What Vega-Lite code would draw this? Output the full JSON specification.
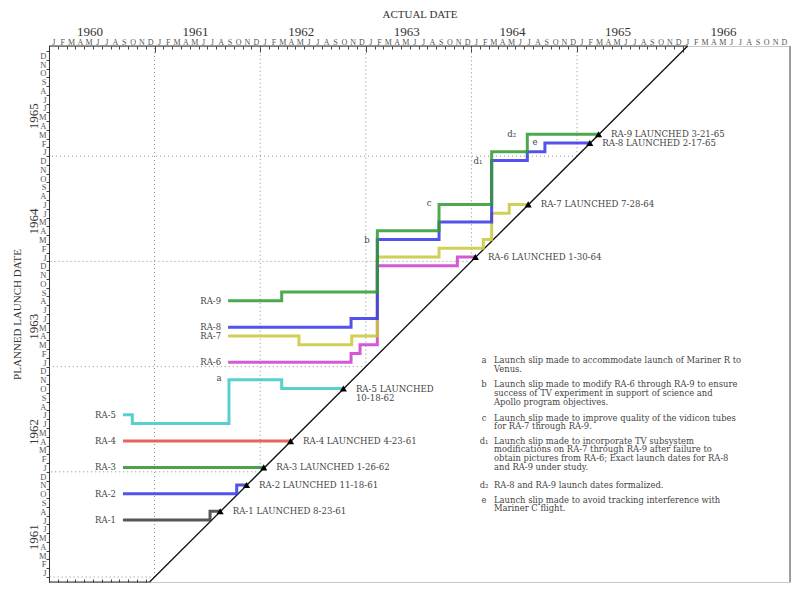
{
  "$schema": "https://vega.github.io/schema/vega-lite/v6.json",
  "width": 741,
  "height": 536,
  "autosize": "none",
  "padding": {"left": 49, "top": 46, "right": 10, "bottom": 10},
  "background": "white",
  "config": {"view": {"stroke": "#c8c8c8", "strokeWidth": 1}, "axis": {"grid": false}},
  "resolve": {"axis": {"x": "independent", "y": "independent"}},
  "datasets": {
    "grid": [
      {"x": 12, "x2": 0, "y": 12, "y2": 12}, {"x": 12, "x2": 12, "y": 12, "y2": 72.57},
      {"x": 24, "x2": 0, "y": 24, "y2": 24}, {"x": 24, "x2": 24, "y": 24, "y2": 72.57},
      {"x": 36, "x2": 0, "y": 36, "y2": 36}, {"x": 36, "x2": 36, "y": 36, "y2": 72.57},
      {"x": 48, "x2": 0, "y": 48, "y2": 48}, {"x": 48, "x2": 48, "y": 48, "y2": 72.57},
      {"x": 60, "x2": 0, "y": 60, "y2": 60}, {"x": 60, "x2": 60, "y": 60, "y2": 72.57}
    ],
    "frame": [
      {"part": "diag", "x": 11.43, "x2": 72.57, "y": 11.43, "y2": 72.57},
      {"part": "edge", "x": 0, "x2": 72.57, "y": 72.57, "y2": 72.57},
      {"part": "edge", "x": 0, "x2": 11.43, "y": 11.43, "y2": 11.43},
      {"part": "right", "x": 84.2, "x2": 84.2, "y": 11.43, "y2": 72.57}
    ],
    "lines": [
      {"series": "RA-1", "i": 0, "x": 8.4, "y": 18.5}, {"series": "RA-1", "i": 1, "x": 18.3, "y": 19.5}, {"series": "RA-1", "i": 2, "x": 19.45, "y": 19.5},
      {"series": "RA-2", "i": 0, "x": 8.4, "y": 21.5}, {"series": "RA-2", "i": 1, "x": 21.33, "y": 22.5}, {"series": "RA-2", "i": 2, "x": 22.45, "y": 22.5},
      {"series": "RA-3", "i": 0, "x": 8.4, "y": 24.5}, {"series": "RA-3", "i": 1, "x": 24.4, "y": 24.5},
      {"series": "RA-4", "i": 0, "x": 8.4, "y": 27.5}, {"series": "RA-4", "i": 1, "x": 27.45, "y": 27.5},
      {"series": "RA-5", "i": 0, "x": 8.4, "y": 30.5}, {"series": "RA-5", "i": 1, "x": 9.47, "y": 29.5}, {"series": "RA-5", "i": 2, "x": 20.45, "y": 34.5}, {"series": "RA-5", "i": 3, "x": 26.44, "y": 33.5}, {"series": "RA-5", "i": 4, "x": 33.45, "y": 33.5},
      {"series": "RA-6", "i": 0, "x": 20.35, "y": 36.5}, {"series": "RA-6", "i": 1, "x": 34.32, "y": 37.5}, {"series": "RA-6", "i": 2, "x": 35.34, "y": 38.5}, {"series": "RA-6", "i": 3, "x": 37.31, "y": 47.5}, {"series": "RA-6", "i": 4, "x": 46.4, "y": 48.5}, {"series": "RA-6", "i": 5, "x": 48.45, "y": 48.5},
      {"series": "RA-7", "i": 0, "x": 20.35, "y": 39.5}, {"series": "RA-7", "i": 1, "x": 28.4, "y": 38.5}, {"series": "RA-7", "i": 2, "x": 34.4, "y": 39.5}, {"series": "RA-7", "i": 3, "x": 37.31, "y": 48.5}, {"series": "RA-7", "i": 4, "x": 44.32, "y": 49.5}, {"series": "RA-7", "i": 5, "x": 49.35, "y": 50.5}, {"series": "RA-7", "i": 6, "x": 50.3, "y": 53.5}, {"series": "RA-7", "i": 7, "x": 52.3, "y": 54.5}, {"series": "RA-7", "i": 8, "x": 54.45, "y": 54.5},
      {"series": "RA-8", "i": 0, "x": 20.35, "y": 40.5}, {"series": "RA-8", "i": 1, "x": 34.32, "y": 41.5}, {"series": "RA-8", "i": 2, "x": 37.31, "y": 50.5}, {"series": "RA-8", "i": 3, "x": 44.32, "y": 52.5}, {"series": "RA-8", "i": 4, "x": 50.3, "y": 59.5}, {"series": "RA-8", "i": 5, "x": 54.35, "y": 60.5}, {"series": "RA-8", "i": 6, "x": 56.35, "y": 61.5}, {"series": "RA-8", "i": 7, "x": 61.45, "y": 61.5},
      {"series": "RA-9", "i": 0, "x": 20.35, "y": 43.5}, {"series": "RA-9", "i": 1, "x": 26.44, "y": 44.5}, {"series": "RA-9", "i": 2, "x": 37.31, "y": 51.5}, {"series": "RA-9", "i": 3, "x": 44.32, "y": 54.5}, {"series": "RA-9", "i": 4, "x": 50.3, "y": 60.5}, {"series": "RA-9", "i": 5, "x": 54.35, "y": 62.5}, {"series": "RA-9", "i": 6, "x": 62.45, "y": 62.5}
    ],
    "launch": [
      {"series": "RA-1", "x": 19.45, "y": 19.5, "label": "RA-1 LAUNCHED 8-23-61"},
      {"series": "RA-2", "x": 22.45, "y": 22.5, "label": "RA-2 LAUNCHED 11-18-61"},
      {"series": "RA-3", "x": 24.4, "y": 24.5, "label": "RA-3 LAUNCHED 1-26-62"},
      {"series": "RA-4", "x": 27.45, "y": 27.5, "label": "RA-4 LAUNCHED 4-23-61"},
      {"series": "RA-5", "x": 33.45, "y": 33.5, "label": "RA-5 LAUNCHED\n10-18-62"},
      {"series": "RA-6", "x": 48.45, "y": 48.5, "label": "RA-6 LAUNCHED 1-30-64"},
      {"series": "RA-7", "x": 54.45, "y": 54.5, "label": "RA-7 LAUNCHED 7-28-64"},
      {"series": "RA-8", "x": 61.45, "y": 61.5, "label": "RA-8 LAUNCHED 2-17-65"},
      {"series": "RA-9", "x": 62.45, "y": 62.5, "label": "RA-9 LAUNCHED 3-21-65"}
    ],
    "tags": [
      {"tag": "a", "x": 19.32, "y": 34.7},
      {"tag": "b", "x": 36.14, "y": 50.44},
      {"tag": "c", "x": 43.18, "y": 54.66},
      {"tag": "d₁", "x": 48.75, "y": 59.45},
      {"tag": "d₂", "x": 52.58, "y": 62.5},
      {"tag": "e", "x": 55.23, "y": 61.6}
    ],
    "notes": [
      {"tag": "a", "x": 50.57, "y": 36.41, "text": "Launch slip made to accommodate launch of Mariner R to\nVenus."},
      {"tag": "b", "x": 50.57, "y": 33.64, "text": "Launch slip made to modify RA-6 through RA-9 to ensure\nsuccess of TV experiment in support of science and\nApollo program objectives."},
      {"tag": "c", "x": 50.57, "y": 29.83, "text": "Launch slip made to improve quality of the vidicon tubes\nfor RA-7 through RA-9."},
      {"tag": "d₁", "x": 50.57, "y": 27.2, "text": "Launch slip made to incorporate TV subsystem\nmodifications on RA-7 through RA-9 after failure to\nobtain pictures from RA-6; Exact launch dates for RA-8\nand RA-9 under study."},
      {"tag": "d₂", "x": 50.57, "y": 22.15, "text": "RA-8 and RA-9 launch dates formalized."},
      {"tag": "e", "x": 50.57, "y": 20.47, "text": "Launch slip made to avoid tracking interference with\nMariner C flight."}
    ]
  },
  "layer": [
    {
      "data": {"name": "grid"},
      "mark": {"type": "rule", "color": "#8a8a8a", "strokeDash": [1, 3], "strokeWidth": 1},
      "encoding": {
        "x": {"field": "x", "type": "quantitative", "scale": {"domain": [0, 84.2], "nice": false, "zero": false},
          "axis": {"orient": "top", "values": [0,1,2,3,4,5,6,7,8,9,10,11,12,13,14,15,16,17,18,19,20,21,22,23,24,25,26,27,28,29,30,31,32,33,34,35,36,37,38,39,40,41,42,43,44,45,46,47,48,49,50,51,52,53,54,55,56,57,58,59,60,61,62,63,64,65,66,67,68,69,70,71,72], "tickSize": -3, "tickColor": "#444", "labels": false, "domain": false, "title": null, "grid": false}},
        "x2": {"field": "x2"},
        "y": {"field": "y", "type": "quantitative", "scale": {"domain": [11.43, 72.57], "nice": false, "zero": false},
          "axis": {"orient": "left", "values": [12,13,14,15,16,17,18,19,20,21,22,23,24,25,26,27,28,29,30,31,32,33,34,35,36,37,38,39,40,41,42,43,44,45,46,47,48,49,50,51,52,53,54,55,56,57,58,59,60,61,62,63,64,65,66,67,68,69,70,71,72], "tickSize": 3, "tickColor": "#444", "labels": false, "domain": true, "domainColor": "#333", "title": null, "grid": false}},
        "y2": {"field": "y2"}
      }
    },
    {
      "data": {"name": "frame"},
      "transform": [{"filter": "datum.part == 'diag'"}],
      "mark": {"type": "rule", "color": "#111", "strokeWidth": 1.3},
      "encoding": {
        "x": {"field": "x", "type": "quantitative", "scale": {"domain": [0, 84.2], "nice": false, "zero": false},
          "axis": {"orient": "top", "values": [0, 12, 24, 36, 48, 60, 72], "tickSize": -6, "tickColor": "#444", "labels": false, "domain": false, "title": null, "grid": false}},
        "x2": {"field": "x2"},
        "y": {"field": "y", "type": "quantitative", "scale": {"domain": [11.43, 72.57], "nice": false, "zero": false},
          "axis": {"orient": "left", "values": [12.5,13.5,14.5,15.5,16.5,17.5,18.5,19.5,20.5,21.5,22.5,23.5,24.5,25.5,26.5,27.5,28.5,29.5,30.5,31.5,32.5,33.5,34.5,35.5,36.5,37.5,38.5,39.5,40.5,41.5,42.5,43.5,44.5,45.5,46.5,47.5,48.5,49.5,50.5,51.5,52.5,53.5,54.5,55.5,56.5,57.5,58.5,59.5,60.5,61.5,62.5,63.5,64.5,65.5,66.5,67.5,68.5,69.5,70.5,71.5], "ticks": false, "domain": false, "grid": false, "title": null,
            "labelExpr": "['J','F','M','A','M','J','J','A','S','O','N','D'][floor(datum.value) % 12]",
            "labelFont": "Liberation Serif", "labelFontSize": 8.5, "labelColor": "#555", "labelPadding": 3, "labelAlign": "right", "labelBaseline": "middle", "labelOverlap": false, "labelFlush": false}},
        "y2": {"field": "y2"}
      }
    },
    {
      "data": {"name": "frame"},
      "transform": [{"filter": "datum.part == 'edge'"}],
      "mark": {"type": "rule", "color": "#333", "strokeWidth": 1},
      "encoding": {
        "x": {"field": "x", "type": "quantitative", "scale": {"domain": [0, 84.2], "nice": false, "zero": false},
          "axis": {"orient": "bottom", "values": [0,1,2,3,4,5,6,7,8,9,10,11], "tickSize": -3, "tickColor": "#444", "labels": false, "domain": false, "title": null, "grid": false}},
        "x2": {"field": "x2"},
        "y": {"field": "y", "type": "quantitative", "scale": {"domain": [11.43, 72.57], "nice": false, "zero": false}, "axis": null},
        "y2": {"field": "y2"}
      }
    },
    {
      "data": {"name": "frame"},
      "transform": [{"filter": "datum.part == 'right'"}],
      "mark": {"type": "rule", "color": "#8c8c8c", "strokeWidth": 1.6},
      "encoding": {
        "x": {"field": "x", "type": "quantitative", "scale": {"domain": [0, 84.2], "nice": false, "zero": false}, "axis": null},
        "x2": {"field": "x2"},
        "y": {"field": "y", "type": "quantitative", "scale": {"domain": [11.43, 72.57], "nice": false, "zero": false}, "axis": null},
        "y2": {"field": "y2"}
      }
    },
    {
      "data": {"name": "lines"},
      "mark": {"type": "line", "interpolate": "step-after", "strokeWidth": 3, "opacity": 0.85},
      "encoding": {
        "x": {"field": "x", "type": "quantitative", "scale": {"domain": [0, 84.2], "nice": false, "zero": false},
          "axis": {"orient": "top", "values": [0.5,1.5,2.5,3.5,4.5,5.5,6.5,7.5,8.5,9.5,10.5,11.5,12.5,13.5,14.5,15.5,16.5,17.5,18.5,19.5,20.5,21.5,22.5,23.5,24.5,25.5,26.5,27.5,28.5,29.5,30.5,31.5,32.5,33.5,34.5,35.5,36.5,37.5,38.5,39.5,40.5,41.5,42.5,43.5,44.5,45.5,46.5,47.5,48.5,49.5,50.5,51.5,52.5,53.5,54.5,55.5,56.5,57.5,58.5,59.5,60.5,61.5,62.5,63.5,64.5,65.5,66.5,67.5,68.5,69.5,70.5,71.5,72.5,73.5,74.5,75.5,76.5,77.5,78.5,79.5,80.5,81.5,82.5,83.5], "ticks": false, "domain": false, "grid": false, "title": null,
            "labelExpr": "['J','F','M','A','M','J','J','A','S','O','N','D'][floor(datum.value) % 12]",
            "labelFont": "Liberation Serif", "labelFontSize": 8, "labelColor": "#555", "labelPadding": 2, "labelBaseline": "alphabetic", "labelAngle": 0, "labelOverlap": false, "labelFlush": false}},
        "y": {"field": "y", "type": "quantitative", "scale": {"domain": [11.43, 72.57], "nice": false, "zero": false},
          "axis": {"orient": "left", "values": [16.6, 28.6, 40.6, 52.6, 64.6], "ticks": false, "domain": false, "grid": false,
            "labelExpr": "'' + (1960 + floor(datum.value / 12))",
            "labelFont": "Liberation Serif", "labelFontSize": 13, "labelColor": "#333", "labelAngle": 270, "labelAlign": "center", "labelBaseline": "alphabetic", "labelPadding": 12, "labelOverlap": false, "labelFlush": false,
            "title": "PLANNED LAUNCH DATE", "titleFont": "Liberation Serif", "titleFontSize": 11, "titleFontWeight": "normal", "titleColor": "#333", "titlePadding": 5}},
        "color": {"field": "series", "type": "nominal", "legend": null,
          "scale": {"domain": ["RA-1", "RA-2", "RA-3", "RA-4", "RA-5", "RA-6", "RA-7", "RA-8", "RA-9"],
            "range": ["#3a3a3a", "#3535e8", "#2f8f2f", "#e8483a", "#3cc8c8", "#cc3ccc", "#c8c83a", "#3535e8", "#2f9a2f"]}},
        "order": {"field": "i"}
      }
    },
    {
      "data": {"name": "launch"},
      "mark": {"type": "point", "shape": "triangle-up", "filled": true, "color": "#000", "size": 50, "opacity": 1},
      "encoding": {
        "x": {"field": "x", "type": "quantitative", "scale": {"domain": [0, 84.2], "nice": false, "zero": false},
          "axis": {"orient": "top", "values": [4.6, 16.6, 28.6, 40.6, 52.6, 64.6, 76.6], "ticks": false, "domain": false, "grid": false,
            "labelExpr": "'' + (1960 + floor(datum.value / 12))",
            "labelFont": "Liberation Serif", "labelFontSize": 13, "labelColor": "#333", "labelPadding": 11, "labelBaseline": "alphabetic", "labelAngle": 0, "labelOverlap": false, "labelFlush": false,
            "title": "ACTUAL DATE", "titleFont": "Liberation Serif", "titleFontSize": 11, "titleFontWeight": "normal", "titleColor": "#333", "titlePadding": 6}},
        "y": {"field": "y", "type": "quantitative", "scale": {"domain": [11.43, 72.57], "nice": false, "zero": false}, "axis": null}
      }
    },
    {
      "data": {"name": "lines"},
      "transform": [{"filter": "datum.i == 0"}],
      "mark": {"type": "text", "align": "right", "baseline": "middle", "dx": -7, "font": "DejaVu Serif", "fontSize": 8.5, "color": "#444"},
      "encoding": {
        "x": {"field": "x", "type": "quantitative", "scale": {"domain": [0, 84.2], "nice": false, "zero": false}, "axis": null},
        "y": {"field": "y", "type": "quantitative", "scale": {"domain": [11.43, 72.57], "nice": false, "zero": false}, "axis": null},
        "text": {"field": "series"}
      }
    },
    {
      "data": {"name": "launch"},
      "mark": {"type": "text", "align": "left", "baseline": "alphabetic", "dx": 12.5, "dy": 3, "font": "DejaVu Serif", "fontSize": 8.6, "lineBreak": "\n", "lineHeight": 9.5, "color": "#444"},
      "encoding": {
        "x": {"field": "x", "type": "quantitative", "scale": {"domain": [0, 84.2], "nice": false, "zero": false}, "axis": null},
        "y": {"field": "y", "type": "quantitative", "scale": {"domain": [11.43, 72.57], "nice": false, "zero": false}, "axis": null},
        "text": {"field": "label"}
      }
    },
    {
      "data": {"name": "tags"},
      "mark": {"type": "text", "align": "center", "baseline": "middle", "font": "DejaVu Serif", "fontSize": 8.5, "color": "#444"},
      "encoding": {
        "x": {"field": "x", "type": "quantitative", "scale": {"domain": [0, 84.2], "nice": false, "zero": false}, "axis": null},
        "y": {"field": "y", "type": "quantitative", "scale": {"domain": [11.43, 72.57], "nice": false, "zero": false}, "axis": null},
        "text": {"field": "tag"}
      }
    },
    {
      "data": {"name": "notes"},
      "mark": {"type": "text", "align": "center", "baseline": "alphabetic", "dx": -10, "font": "DejaVu Serif", "fontSize": 8.4, "color": "#444"},
      "encoding": {
        "x": {"field": "x", "type": "quantitative", "scale": {"domain": [0, 84.2], "nice": false, "zero": false}, "axis": null},
        "y": {"field": "y", "type": "quantitative", "scale": {"domain": [11.43, 72.57], "nice": false, "zero": false}, "axis": null},
        "text": {"field": "tag"}
      }
    },
    {
      "data": {"name": "notes"},
      "mark": {"type": "text", "align": "left", "baseline": "alphabetic", "font": "DejaVu Serif", "fontSize": 8.4, "lineBreak": "\n", "lineHeight": 8.7, "color": "#444"},
      "encoding": {
        "x": {"field": "x", "type": "quantitative", "scale": {"domain": [0, 84.2], "nice": false, "zero": false}, "axis": null},
        "y": {"field": "y", "type": "quantitative", "scale": {"domain": [11.43, 72.57], "nice": false, "zero": false}, "axis": null},
        "text": {"field": "text"}
      }
    }
  ]
}
